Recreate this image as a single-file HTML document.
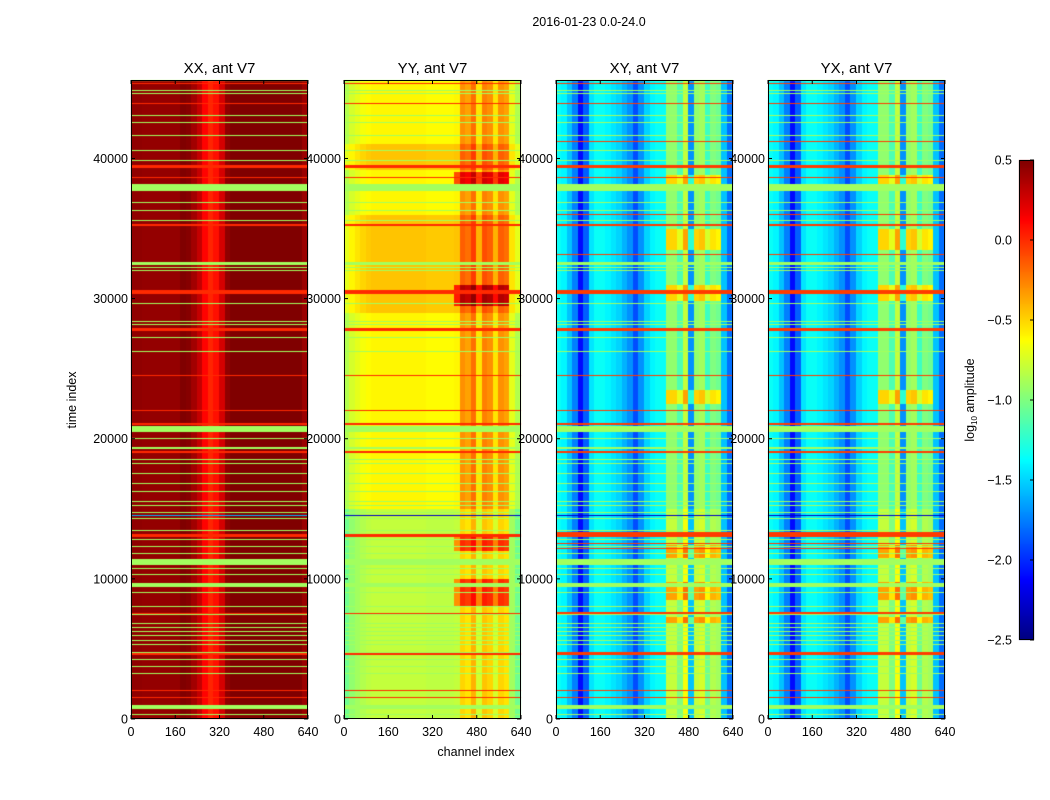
<!DOCTYPE html>
<html><head><meta charset="utf-8">
<style>
html,body{margin:0;padding:0;background:#fff;width:1050px;height:800px;overflow:hidden}
#wrap{position:relative;width:1050px;height:800px}
canvas,svg{position:absolute;left:0;top:0}
text{font-family:"Liberation Sans",sans-serif;fill:#000}
</style></head><body>
<div id="wrap">
<canvas id="cv" width="1050" height="800"></canvas>
<svg id="sv" width="1050" height="800"></svg>
</div>
<script>
// ---- data ----
const panelTitles = ["XX, ant V7","YY, ant V7","XY, ant V7","YX, ant V7"];
const xTicks = [0,160,320,480,640];
const yTicks = [0,10000,20000,30000,40000];
const cbTicks = [0.5,0.0,-0.5,-1.0,-1.5,-2.0,-2.5];
const chMax = 640, tMax = 45600;
const binWidth = 20;
const xxProfile = [0.45,0.45,0.44,0.44,0.44,0.44,0.44,0.44,0.44,0.5,0.48,0.4,0.3,0.12,0.02,0.08,0.25,0.45,0.55,0.55,0.55,0.55,0.55,0.55,0.55,0.55,0.55,0.55,0.55,0.55,0.5,0.42];
const yyProfile = [-0.85,-0.75,-0.7,-0.65,-0.62,-0.6,-0.6,-0.6,-0.6,-0.6,-0.6,-0.6,-0.6,-0.6,-0.6,-0.62,-0.62,-0.62,-0.62,-0.62,-0.6,-0.3,-0.35,-0.2,-0.55,-0.25,-0.3,-0.55,-0.3,-0.35,-0.7,-0.85];
const xyProfile = [-1.35,-1.4,-1.55,-1.75,-2.1,-1.85,-1.45,-1.35,-1.35,-1.4,-1.45,-1.5,-1.6,-1.7,-1.9,-1.7,-1.5,-1.4,-1.35,-1.35,-0.95,-0.95,-1.15,-0.8,-1.7,-0.95,-0.9,-1.2,-1.0,-1.05,-1.55,-1.8];
const yxProfile = [-1.35,-1.4,-1.55,-1.75,-2.1,-1.85,-1.45,-1.35,-1.35,-1.4,-1.45,-1.5,-1.6,-1.7,-1.9,-1.7,-1.5,-1.4,-1.35,-1.35,-0.95,-0.95,-1.15,-0.8,-1.7,-0.95,-0.9,-1.2,-1.0,-1.05,-1.55,-1.8];
// flagged row ranges (time index)
const gRows = [[45500,45600],[44800,44900],[44600,44680],[43000,43100],[42500,42600],[41600,41680],[40500,40580],[39800,39880],[37700,38200],[36800,36880],[36250,36330],[35550,35630],[32400,32600],[32150,32230],[31950,32030],[29600,29680],[28300,28380],[28100,28180],[27200,27280],[26200,26280],[20500,20900],[20000,20060],[19300,19380],[18500,18560],[18200,18260],[17500,17560],[16800,16860],[16200,16260],[15500,15560],[15200,15260],[14700,14760],[14300,14360],[13400,13460],[12800,12880],[12300,12360],[11800,11860],[11000,11400],[10700,10760],[10300,10360],[9400,9700],[9000,9060],[8600,8660],[8000,8060],[7400,7600],[6800,6860],[6500,6560],[6200,6300],[5900,5960],[5600,5660],[5300,5360],[4700,4760],[4200,4260],[3700,3760],[3200,3260],[700,1000],[300,360]];
const oRows = [[45300,45400],[43900,43980],[39300,39500],[38600,38680],[35200,35300],[30300,30600],[27700,27900],[24500,24560],[22000,22060],[21000,21150],[19000,19150],[13000,13200],[7500,7560],[4600,4680],[3400,3450],[2000,2040],[1500,1540]];
const xyRed = [[13200,13320],[12520,12580],[12160,12220],[7600,7660],[7030,7090],[4650,4760],[3610,3670],[3110,3170],[2610,2670],[1820,1880],[1540,1600],[1040,1100],[33100,33160],[36000,36060],[41200,41260],[25300,25360],[23300,23360]];
const bRows = [[18400,18430],[14500,14530],[10600,10630],[9700,9730],[200,230]];
const yyRegions = [[29000,36000,0.15],[0,15000,-0.2],[39200,41000,0.15]];
const yyHot = [[8000,10000],[12000,13000],[38200,39000],[29500,31000]];
const xyHot = [[29800,31000],[38200,38800],[8500,9800],[22500,23500],[33500,35000],[6800,7300],[11500,12400]];
const xyWarm = [[0,15000]];

// ---- geometry ----
const panelLeft = [131,344,556,768];
const pW = 177, pTop = 80, pBot = 719;
const xS = (p,c)=>panelLeft[p] + c/chMax*pW;
const yS = t => pBot - t/tMax*(pBot-pTop);
const cbTop=160, cbBot=640, cbL=1019, cbW=15;
const cbS = v => cbTop + (0.5-v)/3*(cbBot-cbTop);

function jet(v){
  let t=(v+2.5)/3; t=Math.max(0,Math.min(1,t));
  const c=x=>Math.round(255*Math.max(0,Math.min(1,x)));
  return [c(1.5-Math.abs(4*t-3)),c(1.5-Math.abs(4*t-2)),c(1.5-Math.abs(4*t-1))];
}
const inR=(t,arr)=>arr.some(r=>t>=r[0]&&t<r[1]);
const profiles=[xxProfile,yyProfile,xyProfile,yxProfile];
function value(p,t,b){
  const ch=b*binWidth;
  const hotCol = ch>=400 && ch<600;
  if(inR(t,bRows)) return p===0?-1.6:-2.3;
  if(inR(t,oRows)) return p===0?0.0:(p===1?0.0:-0.05);
  if(p>=2 && inR(t,xyRed)) return -0.05;
  if(inR(t,gRows)) return -0.9;
  let v=profiles[p][b];
  if(p===1){
    yyRegions.forEach(r=>{ if(t>=r[0]&&t<r[1]) v+=r[2]; });
    if(hotCol && inR(t,yyHot)) v+=0.5;
  } else if(p>=2){
    if(hotCol && inR(t,xyWarm)) v+=0.15;
    if(hotCol && inR(t,xyHot)) v+=0.45;
  }
  return v;
}
// ---- draw heatmaps ----
const ctx=document.getElementById('cv').getContext('2d');
const nb = chMax/binWidth;
for(let p=0;p<4;p++){
  const rows = pBot-pTop;
  for(let py=0;py<rows;py++){
    const t=(rows-py-0.5)/rows*tMax;
    for(let b=0;b<nb;b++){
      const [r,g,bl]=jet(value(p,t,b));
      ctx.fillStyle=`rgb(${r},${g},${bl})`;
      const x0=Math.floor(xS(p,b*binWidth)), x1=Math.ceil(xS(p,(b+1)*binWidth));
      ctx.fillRect(x0,pTop+py,x1-x0,1);
    }
  }
}
// colorbar
for(let y=cbTop;y<cbBot;y++){
  const v=0.5-(y-cbTop+0.5)/(cbBot-cbTop)*3;
  const [r,g,b]=jet(v);
  ctx.fillStyle=`rgb(${r},${g},${b})`;
  ctx.fillRect(cbL,y,cbW,1);
}
// ---- svg overlay ----
const NS="http://www.w3.org/2000/svg";
const sv=document.getElementById('sv');
function mk(tag,attrs,txt){const e=document.createElementNS(NS,tag);for(const k in attrs)e.setAttribute(k,attrs[k]);if(txt!==undefined)e.textContent=txt;sv.appendChild(e);return e;}
const fmt=v=>(v<0?"\u2212":"")+Math.abs(v).toFixed(1);
for(let p=0;p<4;p++){
  const fr=mk('rect',{x:panelLeft[p]+0.5,y:pTop+0.5,width:pW-1,height:pBot-pTop-1,fill:'none',stroke:'#000','stroke-width':1});
  
  
  const ti=mk('text',{x:panelLeft[p]+pW/2,y:73,'text-anchor':'middle','font-size':15},panelTitles[p]);
  
  
  xTicks.forEach(c=>{
    const x=xS(p,c);
    mk('line',{x1:x,x2:x,y1:pBot,y2:pBot-4,stroke:'#000'});
    mk('line',{x1:x,x2:x,y1:pTop,y2:pTop+4,stroke:'#000'});
    const tl=mk('text',{x:x,y:pBot+17,'text-anchor':'middle','font-size':12.5},String(c));
    
    
  });
  yTicks.forEach(t=>{
    const y=yS(t);
    mk('line',{x1:panelLeft[p],x2:panelLeft[p]+4,y1:y,y2:y,stroke:'#000'});
    mk('line',{x1:panelLeft[p]+pW,x2:panelLeft[p]+pW-4,y1:y,y2:y,stroke:'#000'});
    const tl=mk('text',{x:panelLeft[p]-3,y:y+4.5,'text-anchor':'end','font-size':12.5},String(t));
    
    
  });
}
const st=mk('text',{x:589,y:26,'text-anchor':'middle','font-size':12.5},"2016-01-23 0.0-24.0");


const xl=mk('text',{x:476,y:756,'text-anchor':'middle','font-size':12.5},"channel index");


const yl=mk('text',{x:76,y:400,'text-anchor':'middle','font-size':12.5,transform:'rotate(-90 76 400)'},"time index");


const cf=mk('rect',{x:cbL+0.5,y:cbTop+0.5,width:cbW-1,height:cbBot-cbTop-1,fill:'none',stroke:'#000'});


cbTicks.forEach(v=>{
  const y=cbS(v);
  mk('line',{x1:cbL+cbW,x2:cbL+cbW-4,y1:y,y2:y,stroke:'#000'});
  const tl=mk('text',{x:1012,y:y+4.5,'text-anchor':'end','font-size':12.5},fmt(v));
  
  
});
const cl=mk('text',{x:974,y:400,'text-anchor':'middle','font-size':12.5,transform:'rotate(-90 974 400)'});


const s1=document.createElementNS(NS,'tspan');s1.textContent='log';cl.appendChild(s1);
const s2=document.createElementNS(NS,'tspan');s2.setAttribute('font-size','8');s2.setAttribute('dy','3');s2.textContent='10';cl.appendChild(s2);
const s3=document.createElementNS(NS,'tspan');s3.setAttribute('dy','-3');s3.textContent=' amplitude';cl.appendChild(s3);
</script>
</body></html>
